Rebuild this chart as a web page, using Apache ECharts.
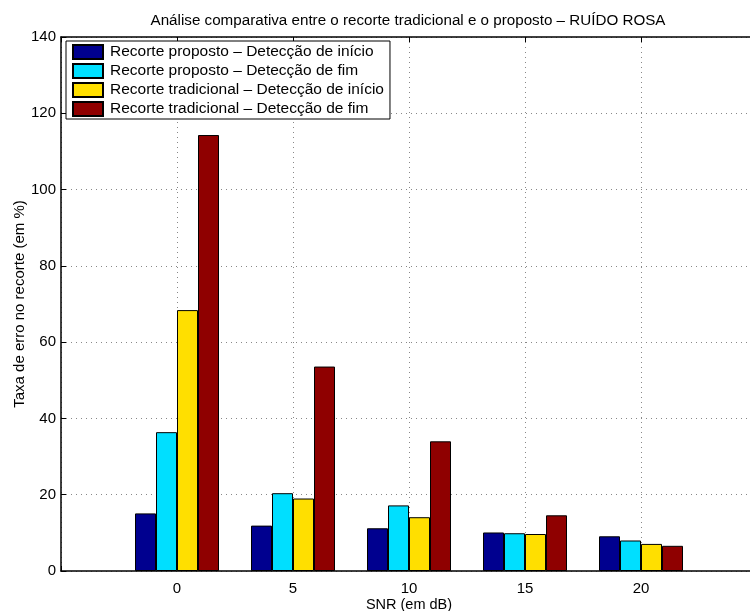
<!DOCTYPE html>
<html>
<head>
<meta charset="utf-8">
<script src="https://cdn.jsdelivr.net/npm/echarts@6/dist/echarts.min.js"></script>
<style>
html, body { margin: 0; padding: 0; background: #fff; }
#chart { width: 750px; height: 611px; }
</style>
</head>
<body>
<div id="chart"></div>
<script>
// SNR levels (dB) on the horizontal axis
const snrLevels = [0, 5, 10, 15, 20];

// Error rates (%) per method
const propostoInicio = [15.1, 11.9, 11.2, 10.1, 9.1];
const propostoFim = [36.4, 20.4, 17.2, 9.9, 8.0];
const tradicionalInicio = [68.4, 19.0, 14.1, 9.7, 7.1];
const tradicionalFim = [114.3, 53.6, 34.0, 14.6, 6.6];

const seriesNames = [
  'Recorte proposto – Detecção de início',
  'Recorte proposto – Detecção de fim',
  'Recorte tradicional – Detecção de início',
  'Recorte tradicional – Detecção de fim'
];
const seriesValues = [propostoInicio, propostoFim, tradicionalInicio, tradicionalFim];
const seriesColors = ['#00008f', '#00dfff', '#ffdf00', '#8f0000'];

const yTicks = [0, 20, 40, 60, 80, 100, 120, 140];

const FONT = 'Liberation Sans, Arial, Helvetica, sans-serif';
const chart = echarts.init(document.getElementById('chart'), null, { renderer: 'canvas' });

const dotted = { show: true, lineStyle: { color: '#888', type: [1, 4], width: 1 } };

chart.setOption({
  animation: false,
  backgroundColor: '#fff',
  textStyle: { fontFamily: FONT },
  title: {
    text: 'Análise comparativa entre o recorte tradicional e o proposto – RUÍDO ROSA',
    left: 403, textAlign: 'center', top: 8,
    textStyle: { fontSize: 15.2, fontWeight: 'normal', color: '#000', fontFamily: FONT }
  },
  legend: {
    orient: 'vertical',
    left: 66, top: 41,
    padding: [3, 6, 2, 6],
    itemWidth: 30, itemHeight: 14, itemGap: 3,
    borderColor: '#000', borderWidth: 1,
    backgroundColor: '#fff',
    textStyle: { fontSize: 15.5, color: '#000', fontFamily: FONT, padding: [0, 0, 0, 2] },
    data: seriesNames.map(n => ({ name: n, icon: 'rect' }))
  },
  grid: { left: 61, top: 37, right: -7, bottom: 40, outerBoundsMode: 'none', containLabel: false },
  xAxis: [{
    type: 'value', min: -5, max: 25, interval: 5,
    position: 'bottom',
    axisLine: { show: true, onZero: false, lineStyle: { color: '#000', width: 1.5 } },
    axisTick: { show: true, inside: true, length: 5, lineStyle: { color: '#000' } },
    axisLabel: {
      fontSize: 15, color: '#000', margin: 10, fontFamily: FONT,
      formatter: v => (snrLevels.indexOf(v) >= 0 ? String(v) : '')
    },
    splitLine: dotted,
    name: 'SNR (em dB)', nameLocation: 'middle', nameGap: 26, nameMoveOverlap: false,
    nameTextStyle: { fontSize: 14.5, color: '#000', fontFamily: FONT, verticalAlign: 'top' }
  }, {
    type: 'value', min: -5, max: 25, interval: 5,
    position: 'top',
    axisLine: { show: true, onZero: false, lineStyle: { color: '#000', width: 1.5 } },
    axisTick: { show: true, inside: true, length: 5, lineStyle: { color: '#000' } },
    axisLabel: { show: false },
    splitLine: { show: false }
  }],
  yAxis: {
    type: 'value', min: yTicks[0], max: yTicks[yTicks.length - 1], interval: 20,
    axisLine: { show: true, onZero: false, lineStyle: { color: '#000', width: 1.5 } },
    axisTick: { show: true, inside: true, length: 5, lineStyle: { color: '#000' } },
    axisLabel: { fontSize: 15, color: '#000', margin: 5, fontFamily: FONT },
    splitLine: dotted,
    name: 'Taxa de erro no recorte (em %)', nameLocation: 'middle', nameGap: 34, nameMoveOverlap: false,
    nameTextStyle: { fontSize: 15, color: '#000', fontFamily: FONT }
  },
  series: seriesNames.map((name, i) => ({
    name: name,
    type: 'bar',
    xAxisIndex: 0,
    barWidth: 21,
    barGap: '0%',
    itemStyle: { color: seriesColors[i], borderColor: '#000', borderWidth: 1 },
    data: snrLevels.map((x, j) => [x, seriesValues[i][j]])
  }))
});
</script>
</body>
</html>
